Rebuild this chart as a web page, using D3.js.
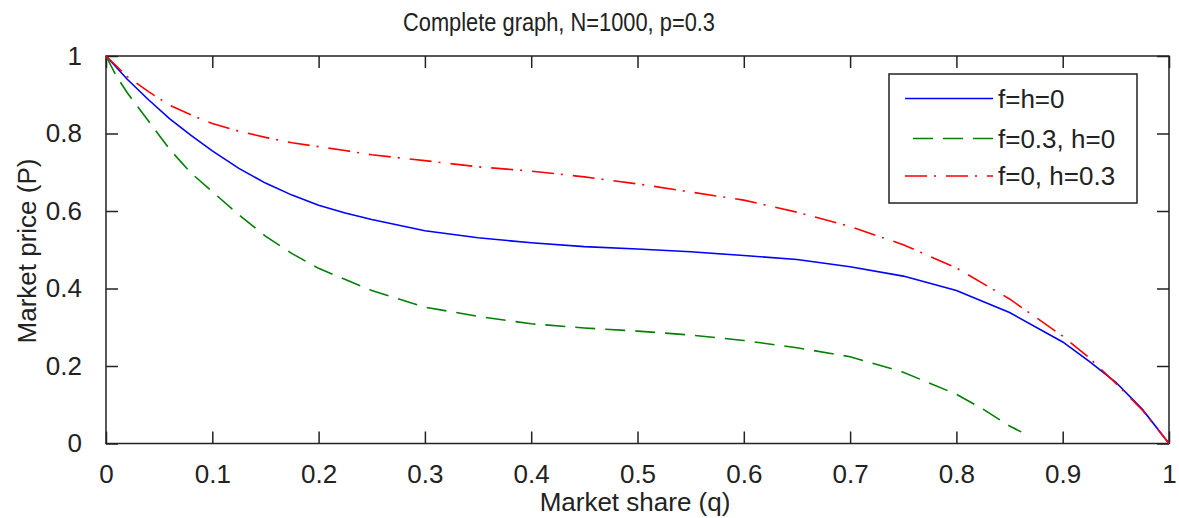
<!DOCTYPE html>
<html>
<head>
<meta charset="utf-8">
<script src="https://cdn.jsdelivr.net/npm/d3@7"></script>
<style>
  body { margin: 0; background: #fff; }
  text { font-family: "Liberation Sans", Arial, sans-serif; fill: #222; }
</style>
</head>
<body>
<div class="chart"></div>
<script>
// values
let qGrid = [0, 0.02, 0.04, 0.06, 0.08, 0.1, 0.125, 0.15, 0.175, 0.2, 0.225, 0.25, 0.3, 0.35, 0.4,
  0.45, 0.5, 0.55, 0.6, 0.65, 0.7, 0.75, 0.8, 0.85, 0.9, 0.925, 0.95, 0.975, 1];
let blueP = [1, 0.94, 0.887, 0.838, 0.795, 0.755, 0.71, 0.672, 0.641, 0.615, 0.595, 0.578, 0.549, 0.531, 0.518,
  0.508, 0.502, 0.495, 0.485, 0.475, 0.456, 0.432, 0.395, 0.338, 0.262, 0.212, 0.158, 0.088, 0];
let redP = [1, 0.947, 0.908, 0.873, 0.848, 0.826, 0.806, 0.79, 0.776, 0.766, 0.756, 0.745, 0.730, 0.714, 0.703,
  0.688, 0.670, 0.649, 0.628, 0.597, 0.560, 0.513, 0.453, 0.373, 0.277, 0.221, 0.155, 0.086, 0];
let greenQ = [0, 0.01, 0.02, 0.04, 0.06, 0.08, 0.1, 0.125, 0.15, 0.175, 0.2, 0.25, 0.3, 0.35, 0.4,
  0.45, 0.5, 0.55, 0.6, 0.65, 0.7, 0.75, 0.8, 0.825, 0.85, 0.861];
let greenP = [1, 0.947, 0.905, 0.832, 0.759, 0.698, 0.65, 0.59, 0.535, 0.49, 0.452, 0.395, 0.352, 0.328, 0.309,
  0.298, 0.290, 0.280, 0.266, 0.247, 0.224, 0.184, 0.127, 0.089, 0.045, 0.030];
let xTicks = [0, 0.1, 0.2, 0.3, 0.4, 0.5, 0.6, 0.7, 0.8, 0.9, 1];
let yTicks = [0, 0.2, 0.4, 0.6, 0.8, 1];
let seriesNames = ['f=h=0', 'f=0.3, h=0', 'f=0, h=0.3'];

let margin = {top: 56, right: 10, bottom: 74.5, left: 106};
let W = 1179, H = 518;
let width = W - margin.left - margin.right;
let height = H - margin.top - margin.bottom;

let svg = d3.select('.chart')
  .append('svg')
  .attr('width', W)
  .attr('height', H);

let g = svg.append('g')
  .attr('transform', 'translate(' + margin.left + ', ' + margin.top + ')');

let xScale = d3.scaleLinear().domain([0, 1]).range([0, width]);
let yScale = d3.scaleLinear().domain([0, 1]).range([height, 0]);

let fmt = d => d === 0 ? '0' : d === 1 ? '1' : d3.format('.1f')(d);

function styleAxis(sel) {
  sel.select('.domain').remove();
  sel.selectAll('.tick line').attr('stroke', '#222').attr('stroke-width', 1.5);
  sel.selectAll('.tick text').style('font-size', '26px').attr('fill', '#222');
}

// bottom
g.append('g')
  .attr('transform', 'translate(0, ' + height + ')')
  .call(d3.axisBottom(xScale).tickValues(xTicks).tickFormat(fmt).tickSizeInner(-12).tickSizeOuter(0).tickPadding(21))
  .call(styleAxis);
// top
g.append('g')
  .call(d3.axisTop(xScale).tickValues(xTicks).tickFormat('').tickSizeInner(-12).tickSizeOuter(0))
  .call(styleAxis);
// left
g.append('g')
  .call(d3.axisLeft(yScale).tickValues(yTicks).tickFormat(fmt).tickSizeInner(-12).tickSizeOuter(0).tickPadding(24))
  .call(styleAxis);
// right
g.append('g')
  .attr('transform', 'translate(' + width + ', 0)')
  .call(d3.axisRight(yScale).tickValues(yTicks).tickFormat('').tickSizeInner(-12).tickSizeOuter(0))
  .call(styleAxis);

g.append('rect')
  .attr('width', width)
  .attr('height', height)
  .attr('fill', 'none')
  .attr('stroke', '#222')
  .attr('stroke-width', 1.5);

let line = d3.line()
  .x(d => xScale(d[0]))
  .y(d => yScale(d[1]));

let series = [
  {name: seriesNames[0], data: d3.zip(qGrid, blueP), color: '#0000ff', dash: null},
  {name: seriesNames[1], data: d3.zip(greenQ, greenP), color: '#008000', dash: '20,10'},
  {name: seriesNames[2], data: d3.zip(qGrid, redP), color: '#ff0000', dash: '22,7,2,10'}
];

g.selectAll('.line')
  .data(series)
  .enter()
  .append('path')
  .attr('class', 'line')
  .attr('d', d => line(d.data))
  .attr('fill', 'none')
  .attr('stroke', d => d.color)
  .attr('stroke-width', 1.6)
  .attr('stroke-dasharray', d => d.dash);

// legend
let legend = svg.append('g').attr('transform', 'translate(889, 74)');
legend.append('rect')
  .attr('width', 248)
  .attr('height', 129)
  .attr('fill', '#fff')
  .attr('stroke', '#222')
  .attr('stroke-width', 1.5);

let rowY = [24.5, 64.5, 102];
series.forEach(function (s, i) {
  legend.append('line')
    .attr('x1', i === 1 ? 24 : 16).attr('x2', 104)
    .attr('y1', rowY[i]).attr('y2', rowY[i])
    .attr('stroke', s.color)
    .attr('stroke-width', 1.6)
    .attr('stroke-dasharray', s.dash);
  legend.append('text')
    .attr('x', 109)
    .attr('y', rowY[i] + 9)
    .style('font-size', '26px')
    .text(s.name);
});

// title and labels
svg.append('text')
  .attr('x', 559)
  .attr('y', 31)
  .attr('text-anchor', 'middle')
  .attr('textLength', 312)
  .attr('lengthAdjust', 'spacingAndGlyphs')
  .style('font-size', '25px')
  .text('Complete graph, N=1000, p=0.3');

svg.append('text')
  .attr('x', 635)
  .attr('y', 511)
  .attr('text-anchor', 'middle')
  .style('font-size', '26px')
  .text('Market share (q)');

svg.append('text')
  .attr('transform', 'translate(36, 251) rotate(-90)')
  .attr('text-anchor', 'middle')
  .style('font-size', '26px')
  .text('Market price (P)');
</script>
</body>
</html>
